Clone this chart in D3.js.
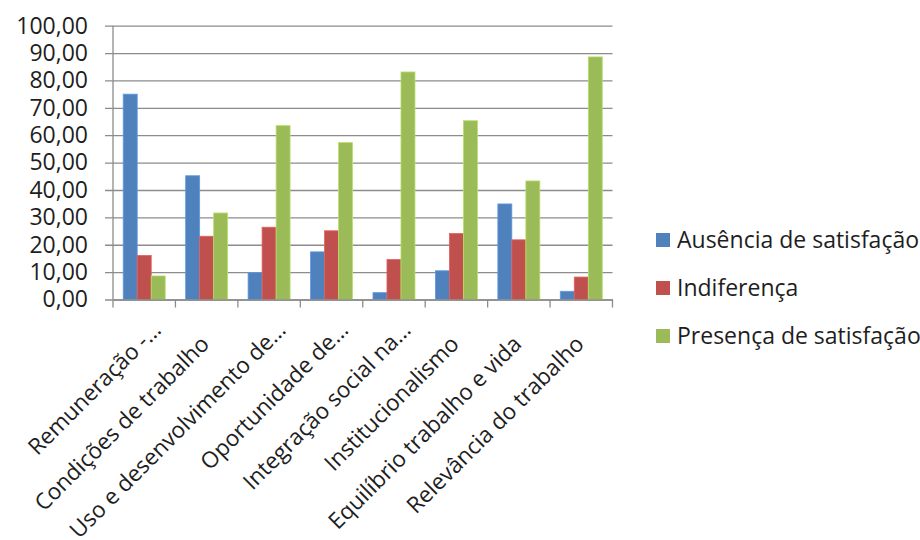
<!DOCTYPE html>
<html>
<head>
<meta charset="utf-8">
<script src="https://cdn.jsdelivr.net/npm/d3@7"></script>
<style>
  html, body { margin: 0; padding: 0; background: #fff; }
  svg { display: block; }
  svg text { font-family: "Open Sans", "Noto Sans", sans-serif; }
</style>
</head>
<body>
<svg id="chart" width="920" height="540"></svg>
<script>
// Dimensões da qualidade de vida no trabalho
const categories = [
  "Remuneração -…",
  "Condições de trabalho",
  "Uso e desenvolvimento de…",
  "Oportunidade de…",
  "Integração social na…",
  "Institucionalismo",
  "Equilíbrio trabalho e vida",
  "Relevância do trabalho"
];
const seriesNames = ["Ausência de satisfação", "Indiferença", "Presença de satisfação"];
const ausencia    = [75.0, 45.2, 9.8, 17.4, 2.5, 10.5, 34.9, 3.0];
const indiferenca = [16.1, 23.1, 26.4, 25.1, 14.6, 24.1, 21.8, 8.2];
const presenca    = [8.6, 31.6, 63.5, 57.3, 83.1, 65.3, 43.3, 88.6];
const yTicks = [0, 10, 20, 30, 40, 50, 60, 70, 80, 90, 100];
const colors = ["#4F81BD", "#C0504D", "#9BBB59"];

const seriesValues = [ausencia, indiferenca, presenca];

const svg = d3.select("#chart");
const plot = { left: 113, right: 612.5, top: 25.7, bottom: 299.5 };
const gridColor = "#8c8c8c";
const textColor = "#1e1e1e";
const fontFamily = '"Open Sans", "Noto Sans", sans-serif';

const x = d3.scaleBand().domain(categories).range([plot.left, plot.right]).padding(0);
const xs = d3.scaleBand().domain(seriesNames).range([0, x.bandwidth()])
  .paddingInner(0).paddingOuter(0.73);
const y = d3.scaleLinear().domain([0, 100]).range([plot.bottom, plot.top]);

const fmt = v => d3.format(".2f")(v).replace(".", ",");

// gridlines + y axis labels
const yAxis = d3.axisLeft(y).tickValues(yTicks).tickFormat(fmt)
  .tickSize(-(plot.right - plot.left)).tickPadding(25);
const gy = svg.append("g").attr("transform", `translate(${plot.left},0)`).call(yAxis)
  .attr("font-family", fontFamily);
gy.select(".domain").remove();
gy.selectAll(".tick line").attr("stroke", gridColor).attr("stroke-width", 1.3).attr("x1", -8);
gy.selectAll(".tick text").attr("fill", textColor).style("font-size", "23px");

// vertical axis line
svg.append("line")
  .attr("x1", plot.left).attr("x2", plot.left)
  .attr("y1", plot.top).attr("y2", plot.bottom)
  .attr("stroke", gridColor).attr("stroke-width", 1.3);

// bars
const groups = svg.append("g").selectAll("g")
  .data(categories)
  .join("g")
  .attr("transform", d => `translate(${x(d)},0)`);

groups.selectAll("rect")
  .data((d, i) => seriesNames.map((s, j) => ({ s, j, v: seriesValues[j][i] })))
  .join("rect")
  .attr("x", d => xs(d.s))
  .attr("width", xs.bandwidth())
  .attr("y", d => y(d.v))
  .attr("height", d => y(0) - y(d.v))
  .attr("fill", d => colors[d.j])
  .attr("stroke", d => d3.color(colors[d.j]).brighter(0.5))
  .attr("stroke-width", 0.8);

// x axis
const xAxis = d3.axisBottom(x).tickSize(0).tickPadding(0);
const gx = svg.append("g").attr("transform", `translate(0,${plot.bottom})`).call(xAxis)
  .attr("font-family", fontFamily);
gx.select(".domain").attr("stroke", gridColor).attr("stroke-width", 1.3);
// category boundary ticks
gx.append("g").selectAll("line")
  .data(d3.range(categories.length + 1))
  .join("line")
  .attr("x1", i => plot.left + i * x.step())
  .attr("x2", i => plot.left + i * x.step())
  .attr("y1", 0).attr("y2", 8)
  .attr("stroke", gridColor).attr("stroke-width", 1.3);
// rotated category labels; truncated ones keep extra room after the ellipsis
gx.selectAll(".tick text")
  .attr("fill", textColor)
  .style("font-size", "22.5px")
  .attr("text-anchor", "end")
  .attr("y", 0)
  .attr("dy", "0")
  .attr("dx", d => d.endsWith("…") ? 20 : 0)
  .attr("transform", "translate(4,46) rotate(-45)");

// legend
const legend = svg.append("g").attr("transform", "translate(656,240)");
const li = legend.selectAll("g").data(seriesNames).join("g")
  .attr("transform", (d, i) => `translate(0,${i * 48})`);
li.append("rect").attr("x", 0).attr("y", -7).attr("width", 14).attr("height", 14)
  .attr("fill", (d, i) => colors[i]);
li.append("text").attr("x", 21).attr("y", 0).attr("dy", "0.35em")
  .style("font-size", "23px").attr("fill", textColor).text(d => d);
</script>
</body>
</html>
